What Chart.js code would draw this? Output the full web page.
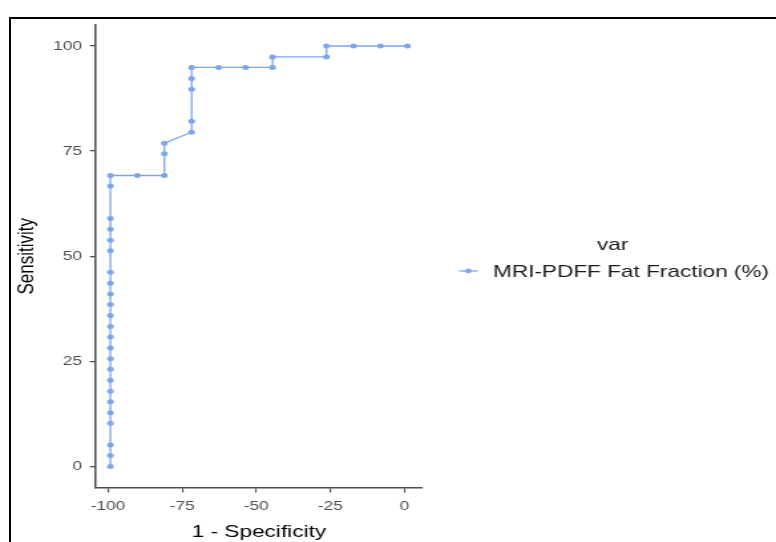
<!DOCTYPE html>
<html>
<head>
<meta charset="utf-8">
<script src="https://cdn.jsdelivr.net/npm/chart.js@4.4.1/dist/chart.umd.min.js"></script>
<style>
  html, body { margin: 0; padding: 0; background: #fff; overflow: hidden; }
  #wrap { position: relative; width: 776px; height: 542px; overflow: hidden; }
  /* the source image is a horizontally stretched plot, so the canvas is stretched the same way */
  #roc { position: absolute; left: 0; top: 0; transform: scaleX(1.32877); transform-origin: 0 0; }
  #frame { position: absolute; left: 9px; top: 17px; right: -20px; bottom: -20px;
           border-left: 2px solid #000; border-top: 2px solid #000; pointer-events: none; }
</style>
</head>
<body>
<div id="wrap">
  <canvas id="roc" width="584" height="542"></canvas>
  <div id="frame"></div>
</div>
<script>
// ROC points
const specX = [
  -99.2, -99.2, -99.2, -99.2, -99.2, -99.2, -99.2, -99.2, -99.2, -99.2, -99.2, -99.2,
  -99.2, -99.2, -99.2, -99.2, -99.2, -99.2, -99.2, -99.2, -99.2, -99.2, -99.2, -99.2,
  -90.1, -81.0, -81.0, -81.0, -71.8, -71.8, -71.8, -71.8, -71.8,
  -62.7, -53.6, -44.5, -44.5, -26.3, -26.3, -17.2, -8.1, 1.0
];
const sensY = [
  0, 2.6, 5.1, 10.3, 12.8, 15.4, 17.9, 20.5, 23.1, 25.6, 28.2, 30.8,
  33.3, 35.9, 38.5, 41.0, 43.6, 46.2, 51.3, 53.8, 56.4, 59.0, 66.7, 69.2,
  69.2, 69.2, 74.4, 76.9, 79.5, 82.1, 89.7, 92.3, 94.9,
  94.9, 94.9, 94.9, 97.4, 97.4, 100, 100, 100, 100
];
const xTicks = [-100, -75, -50, -25, 0];
const yTicks = [0, 25, 50, 75, 100];
const seriesName = 'MRI-PDFF Fat Fraction (%)';
const legendTitle = 'var';

const lineColor = '#7ba6ec';
const axisColor = '#4d4d4d';
const fontFamily = '"Liberation Sans", Arial, Helvetica, sans-serif';

const points = specX.map((x, i) => ({ x: x, y: sensY[i] }));

// legend drawn to the right of the plot, ggplot style
const sideLegend = {
  id: 'sideLegend',
  afterDraw(chart) {
    const ctx = chart.ctx;
    const x0 = chart.chartArea.right;
    const ds = chart.data.datasets[0];
    ctx.save();
    ctx.font = '17px ' + fontFamily;
    ctx.fillStyle = '#1a1a1a';
    ctx.textBaseline = 'alphabetic';
    ctx.textAlign = 'center';
    ctx.fillText(legendTitle, x0 + 143, 250);

    ctx.strokeStyle = ds.borderColor;
    ctx.lineWidth = 1.3;
    ctx.beginPath();
    ctx.moveTo(x0 + 27.5, 271);
    ctx.lineTo(x0 + 41.5, 271);
    ctx.stroke();
    ctx.fillStyle = ds.pointBackgroundColor;
    ctx.beginPath();
    ctx.arc(x0 + 34.5, 271, 2.4, 0, Math.PI * 2);
    ctx.fill();

    ctx.fillStyle = '#1a1a1a';
    ctx.textAlign = 'left';
    ctx.fillText(ds.label, x0 + 53, 277);
    ctx.restore();
  }
};

const ctx = document.getElementById('roc').getContext('2d');

const config = {
  type: 'scatter',
  data: {
    datasets: [{
      label: seriesName,
      data: points,
      showLine: true,
      tension: 0,
      borderColor: lineColor,
      borderWidth: 1.3,
      pointBackgroundColor: lineColor,
      pointBorderColor: lineColor,
      pointBorderWidth: 0,
      pointRadius: 2.5
    }]
  },
  options: {
    responsive: false,
    animation: false,
    devicePixelRatio: 1,
    layout: { padding: { left: 0, top: 25, right: 266, bottom: 0 } },
    plugins: {
      legend: { display: false },
      tooltip: { enabled: false }
    },
    scales: {
      x: {
        type: 'linear',
        min: -104.3,
        max: 6.1,
        afterBuildTicks: (scale) => { scale.ticks = xTicks.map(v => ({ value: v })); },
        afterFit: (scale) => { scale.height = 54.5; },
        border: { display: true, color: axisColor, width: 1.5 },
        grid: { drawOnChartArea: false, drawTicks: true, tickLength: 5, color: axisColor, lineWidth: 1.1 },
        ticks: { color: axisColor, padding: 6, font: { family: fontFamily, size: 13 }, maxRotation: 0 },
        title: { display: true, text: '1 - Specificity', color: '#000',
                 font: { family: fontFamily, size: 17 }, padding: { top: 0, bottom: -1 } }
      },
      y: {
        type: 'linear',
        min: -5,
        max: 105,
        afterBuildTicks: (scale) => { scale.ticks = yTicks.map(v => ({ value: v })); },
        afterFit: (scale) => { scale.width = 71.7; },
        border: { display: true, color: axisColor, width: 1.5 },
        grid: { drawOnChartArea: false, drawTicks: true, tickLength: 4, color: axisColor, lineWidth: 1.3 },
        ticks: { color: axisColor, padding: 6, font: { family: fontFamily, size: 13 } },
        title: { display: true, text: 'Sensitivity', color: '#000',
                 font: { family: fontFamily, size: 17 }, padding: { top: 10, bottom: 0 } }
      }
    }
  },
  plugins: [sideLegend]
};

const rocChart = new Chart(ctx, config);
</script>
</body>
</html>
